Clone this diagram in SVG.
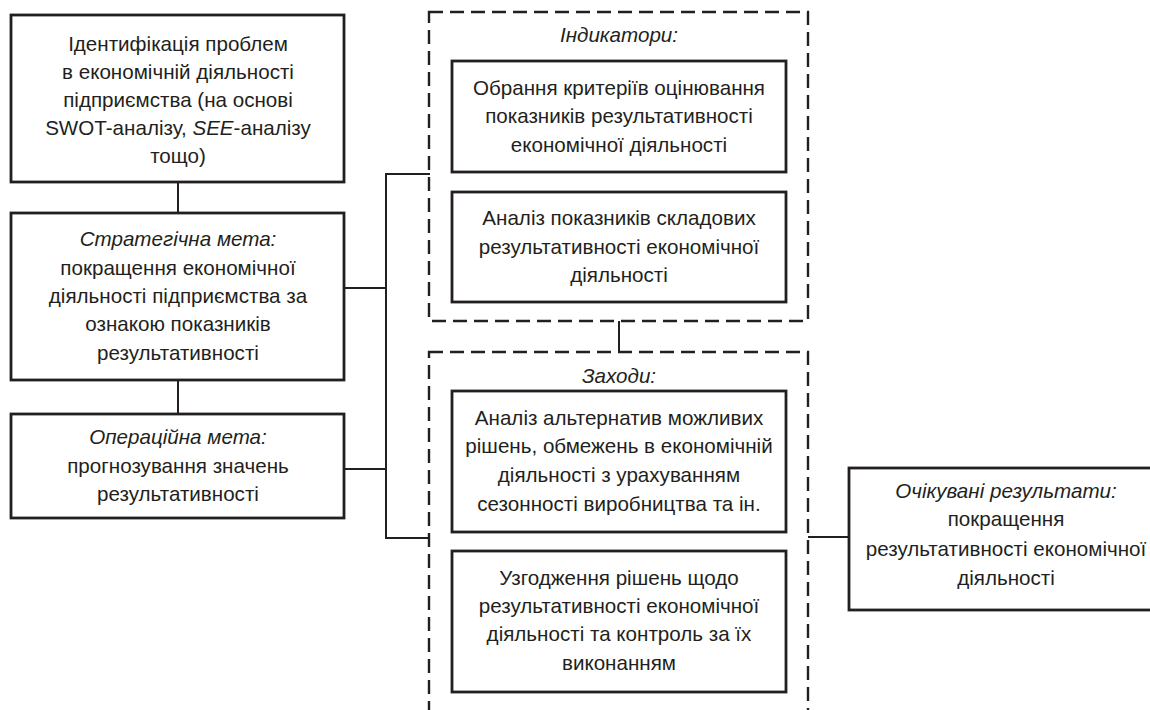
<svg xmlns="http://www.w3.org/2000/svg" width="1150" height="710" viewBox="0 0 1150 710">
<style>
.box{fill:#fff;stroke:#231f20;stroke-width:2.8}
.dash{fill:none;stroke:#231f20;stroke-width:2.4;stroke-dasharray:14 7}
.ln{fill:none;stroke:#231f20;stroke-width:2}
text{font-family:"Liberation Sans",Arial,sans-serif;font-size:20.6px;fill:#231f20;text-anchor:middle}
.it{font-style:italic}
</style>
<rect width="1150" height="710" fill="#fff"/>
<g id="connectors">
<line class="ln" x1="178" y1="182" x2="178" y2="214"/>
<line class="ln" x1="178" y1="380" x2="178" y2="414"/>
<polyline class="ln" points="430,174 386,174 386,538 430,538"/>
<line class="ln" x1="344" y1="288" x2="386" y2="288"/>
<line class="ln" x1="344" y1="469" x2="386" y2="469"/>
<line class="ln" x1="619" y1="321" x2="619" y2="352"/>
<line class="ln" x1="808" y1="537" x2="849" y2="537"/>
</g>
<g id="identification">
<rect class="box" x="11" y="15" width="333" height="167"/>
<text x="178" y="51">Ідентифікація проблем</text>
<text x="178" y="79">в економічній діяльності</text>
<text x="178" y="107">підприємства (на основі</text>
<text x="178" y="135">SWOT-аналізу, <tspan class="it">SEE</tspan>-аналізу</text>
<text x="178" y="163">тощо)</text>
</g>
<g id="strategic">
<rect class="box" x="11" y="213" width="333" height="167"/>
<text x="178" y="246" class="it">Стратегічна мета:</text>
<text x="178" y="275">покращення економічної</text>
<text x="178" y="303">діяльності підприємства за</text>
<text x="178" y="331">ознакою показників</text>
<text x="178" y="360">результативності</text>
</g>
<g id="operational">
<rect class="box" x="11" y="414" width="333" height="104"/>
<text x="178" y="444" class="it">Операційна мета:</text>
<text x="178" y="473">прогнозування значень</text>
<text x="178" y="501">результативності</text>
</g>
<g id="indicators">
<rect class="dash" x="429" y="12" width="379" height="309"/>
<text x="619" y="42" class="it">Індикатори:</text>
</g>
<g id="criteria">
<rect class="box" x="452" y="61" width="334" height="111"/>
<text x="619" y="95">Обрання критеріїв оцінювання</text>
<text x="619" y="123">показників результативності</text>
<text x="619" y="152">економічної діяльності</text>
</g>
<g id="analysis">
<rect class="box" x="452" y="192" width="334" height="110"/>
<text x="619" y="225">Аналіз показників складових</text>
<text x="619" y="254">результативності економічної</text>
<text x="619" y="282">діяльності</text>
</g>
<g id="measures">
<rect class="dash" x="429" y="352" width="379" height="380"/>
<text x="619" y="383" class="it">Заходи:</text>
</g>
<g id="alternatives">
<rect class="box" x="452" y="391" width="334" height="141"/>
<text x="619" y="425">Аналіз альтернатив можливих</text>
<text x="619" y="453">рішень, обмежень в економічній</text>
<text x="619" y="482">діяльності з урахуванням</text>
<text x="619" y="511">сезонності виробництва та ін.</text>
</g>
<g id="agreement">
<rect class="box" x="452" y="551" width="334" height="141"/>
<text x="619" y="585">Узгодження рішень щодо</text>
<text x="619" y="613">результативності економічної</text>
<text x="619" y="641">діяльності та контроль за їх</text>
<text x="619" y="670">виконанням</text>
</g>
<g id="results">
<rect class="box" x="849" y="468" width="320" height="142"/>
<text x="1006" y="498" class="it">Очікувані результати:</text>
<text x="1006" y="526">покращення</text>
<text x="1006" y="556">результативності економічної</text>
<text x="1006" y="585">діяльності</text>
</g>
</svg>
